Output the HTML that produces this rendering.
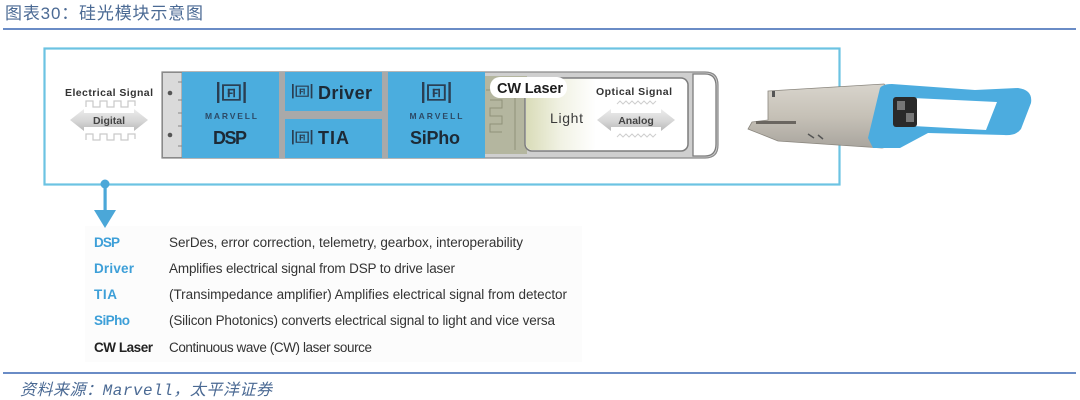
<!DOCTYPE html>
<html><head><meta charset="utf-8"><style>
html,body{margin:0;padding:0;background:#fff;}
svg{display:block;}
</style></head><body>
<svg width="1080" height="400" viewBox="0 0 1080 400" xmlns="http://www.w3.org/2000/svg">
<defs>
<linearGradient id="arrowG" x1="0" y1="0" x2="0" y2="1">
<stop offset="0" stop-color="#ececec"/><stop offset="0.55" stop-color="#d6d6d6"/><stop offset="1" stop-color="#b8b8b8"/>
</linearGradient>
<linearGradient id="glow" x1="0" y1="0" x2="1" y2="0">
<stop offset="0" stop-color="#d9dcb8"/><stop offset="0.5" stop-color="#f1f2e4"/><stop offset="1" stop-color="#ffffff"/>
</linearGradient>
<linearGradient id="silver" x1="0" y1="0" x2="0" y2="1">
<stop offset="0" stop-color="#d8d4cc"/><stop offset="0.5" stop-color="#c6c1b7"/><stop offset="1" stop-color="#a9a59e"/>
</linearGradient>
<g id="logo">
<rect x="0" y="0" width="2" height="20" fill="#2a3e52"/>
<rect x="22" y="0" width="2" height="20" fill="#2a3e52"/>
<rect x="5" y="3" width="14" height="14" fill="none" stroke="#2a3e52" stroke-width="1.6"/>
<rect x="9" y="6.5" width="1.6" height="8" fill="#2a3e52"/>
<rect x="9" y="6.5" width="6" height="1.5" fill="#2a3e52"/>
<rect x="9" y="10" width="4" height="1.4" fill="#2a3e52"/>
<rect x="13.6" y="6.5" width="1.4" height="8" fill="#2a3e52"/>
</g>
</defs>

<!-- Title -->
<text x="5" y="19" font-family="'Liberation Sans','Noto Sans CJK SC',sans-serif" font-size="17" fill="#4b6a94" textLength="198">图表30：硅光模块示意图</text>
<rect x="3" y="28" width="1073" height="2" fill="#6a8cc6"/>

<!-- legend bg -->
<rect x="85" y="226" width="497" height="136" fill="#fcfcfc"/>

<!-- Frame -->
<rect x="44.5" y="48.5" width="795" height="136" fill="none" stroke="#6cc3e2" stroke-width="2.2"/>
<circle cx="105" cy="184" r="4.5" fill="#4ba7d8"/>
<rect x="103.5" y="184" width="3.2" height="28" fill="#4ba7d8"/>
<polygon points="94,210 116,210 105,228" fill="#4ba7d8"/>

<!-- Electrical signal -->
<text x="65" y="96" font-family="'Liberation Sans',sans-serif" font-weight="bold" font-size="10.5" fill="#333" textLength="88">Electrical Signal</text>
<polyline points="86,107 86,101 93,101 93,107 100,107 100,101 107,101 107,107 114,107 114,101 121,101 121,107 128,107 128,101 135,101 135,106" fill="none" stroke="#c9c9c9" stroke-width="1.2"/>
<polygon points="70,120 84,109 84,113 134,113 134,109 148,120 134,131 134,127 84,127 84,131" fill="url(#arrowG)"/>
<text x="109" y="124" text-anchor="middle" font-family="'Liberation Sans',sans-serif" font-weight="bold" font-size="10.5" fill="#444">Digital</text>
<polyline points="86,140 86,134 93,134 93,140 100,140 100,134 107,134 107,140 114,140 114,134 121,134 121,140 128,140 128,134 135,134 135,139" fill="none" stroke="#c9c9c9" stroke-width="1.2"/>

<!-- Module body -->
<path d="M162,72 L705,72 Q718,72 718,85 L718,145 Q718,158 705,158 L162,158 Z" fill="#cfcfcf" stroke="#8a8a8a" stroke-width="1.2"/>
<rect x="162.5" y="72.5" width="19.5" height="85" fill="#dadada" stroke="#8a8a8a" stroke-width="1"/>
<circle cx="170" cy="93" r="2.3" fill="#555"/>
<circle cx="170" cy="135" r="2.3" fill="#555"/>
<g stroke="#888" stroke-width="1">
<line x1="178" y1="82" x2="182" y2="82"/><line x1="178" y1="100" x2="182" y2="100"/><line x1="178" y1="113" x2="182" y2="113"/><line x1="178" y1="126" x2="182" y2="126"/><line x1="178" y1="146" x2="182" y2="146"/>
</g>
<!-- gray separators -->
<rect x="279" y="72" width="109" height="86" fill="#a9a9a9"/>
<!-- blue blocks -->
<rect x="182" y="72" width="97" height="86" fill="#4badde"/>
<rect x="285" y="72" width="97" height="39" fill="#4badde"/>
<rect x="285" y="119" width="97" height="39" fill="#4badde"/>
<rect x="388" y="72" width="97" height="86" fill="#4badde"/>

<!-- DSP -->
<g transform="translate(217,82) scale(1.2,1.05)"><use href="#logo"/></g>
<text x="231" y="119" text-anchor="middle" font-family="'Liberation Sans',sans-serif" font-weight="bold" font-size="8.5" fill="#2c4a66" textLength="52">MARVELL</text>
<text x="230" y="144" text-anchor="middle" font-family="'Liberation Sans',sans-serif" font-weight="bold" font-size="18" fill="#1d2a36" textLength="34">DSP</text>
<!-- Driver -->
<g transform="translate(292,84) scale(0.85,0.72)"><use href="#logo"/></g>
<text x="318" y="99" font-family="'Liberation Sans',sans-serif" font-weight="bold" font-size="18" fill="#1d2a36" textLength="54">Driver</text>
<!-- TIA -->
<g transform="translate(292,130) scale(0.85,0.72)"><use href="#logo"/></g>
<text x="318" y="144" font-family="'Liberation Sans',sans-serif" font-weight="bold" font-size="18" fill="#1d2a36" textLength="31">TIA</text>
<!-- SiPho -->
<g transform="translate(422,82) scale(1.2,1.05)"><use href="#logo"/></g>
<text x="436" y="119" text-anchor="middle" font-family="'Liberation Sans',sans-serif" font-weight="bold" font-size="8.5" fill="#2c4a66" textLength="53">MARVELL</text>
<text x="435" y="144" text-anchor="middle" font-family="'Liberation Sans',sans-serif" font-weight="bold" font-size="18" fill="#1d2a36" textLength="50">SiPho</text>

<!-- laser chip area -->
<rect x="485" y="76" width="42" height="78" fill="#b4b69f"/>
<g stroke="#8f917a" stroke-width="1" fill="none">
<path d="M490,100 h12 v8 h-12 v8 h12 v8 h-12 v8 h12"/>
<line x1="515" y1="80" x2="515" y2="150"/>
<line x1="486" y1="90" x2="527" y2="90"/>
</g>
<!-- inner white box -->
<rect x="525" y="78" width="163" height="73" rx="7" fill="#fff" stroke="#7d7d7d" stroke-width="1.5"/>
<rect x="526" y="79" width="70" height="71" rx="6" fill="url(#glow)"/>
<!-- end cap -->
<path d="M693,74 L705,74 Q716,74 716,86 L716,144 Q716,156 705,156 L693,156 Z" fill="#fff" stroke="#7d7d7d" stroke-width="1.3"/>
<!-- CW Laser pill -->
<rect x="490" y="77" width="77" height="21" rx="10" fill="#fff"/>
<text x="497" y="93" font-family="'Liberation Sans',sans-serif" font-weight="bold" font-size="14.5" fill="#1d1d1d" textLength="66">CW Laser</text>
<text x="550" y="123" font-family="'Liberation Sans',sans-serif" font-size="14" fill="#3a3a3a" textLength="33">Light</text>
<!-- optical signal -->
<text x="596" y="95" font-family="'Liberation Sans',sans-serif" font-weight="bold" font-size="10.5" fill="#333" textLength="76">Optical Signal</text>
<path d="M617,104 l3,-3 l3,3 l3,-3 l3,3 l3,-3 l3,3 l3,-3 l3,3 l3,-3 l3,3 l3,-3 l3,3 l3,-3" fill="none" stroke="#cfcfcf" stroke-width="1"/>
<polygon points="597,120 611,109 611,113 661,113 661,109 675,120 661,131 661,127 611,127 611,131" fill="url(#arrowG)"/>
<text x="636" y="124" text-anchor="middle" font-family="'Liberation Sans',sans-serif" font-weight="bold" font-size="10.5" fill="#444">Analog</text>
<path d="M617,137 l3,-3 l3,3 l3,-3 l3,3 l3,-3 l3,3 l3,-3 l3,3 l3,-3 l3,3 l3,-3 l3,3 l3,-3" fill="none" stroke="#cfcfcf" stroke-width="1"/>

<!-- pluggable transceiver -->
<polygon points="768,91 884,84 893,92 893,146 882,148 778,141 748,129 752,122 768,120" fill="url(#silver)" stroke="#8a867e" stroke-width="0.8"/>
<rect x="756" y="121" width="40" height="3" fill="#6a6660"/>
<rect x="772" y="91" width="3" height="6" fill="#555"/>
<path d="M808,134 l6,4 M818,135 l5,4" stroke="#555" stroke-width="1.5"/>
<path d="M868,138 L880,88 Q883,84 892,84 L975,90 L1018,88 Q1033,90 1031,103 L1021,129 Q1016,136 1004,135 L928,133 L900,148 L873,148 Z M913,98 L997,102 L986,130 L913,126 Z" fill="#4cacdf" fill-rule="evenodd"/>
<rect x="893" y="97" width="24" height="30" rx="3" fill="#2a2a2a"/>
<rect x="897" y="101" width="8" height="9" fill="#777"/>
<rect x="906" y="113" width="8" height="9" fill="#777"/>

<!-- Legend -->
<g font-family="'Liberation Sans',sans-serif" font-size="13.5">
<text x="94" y="247" font-weight="bold" fill="#3d9fd8" textLength="26">DSP</text>
<text x="169" y="247" fill="#333" textLength="354">SerDes, error correction, telemetry, gearbox, interoperability</text>
<text x="94" y="273" font-weight="bold" fill="#3d9fd8" textLength="40">Driver</text>
<text x="169" y="273" fill="#333" textLength="286">Amplifies electrical signal from DSP to drive laser</text>
<text x="94" y="299" font-weight="bold" fill="#3d9fd8" textLength="23">TIA</text>
<text x="169" y="299" fill="#333" textLength="398">(Transimpedance amplifier) Amplifies electrical signal from detector</text>
<text x="94" y="325" font-weight="bold" fill="#3d9fd8" textLength="36">SiPho</text>
<text x="169" y="325" fill="#333" textLength="386">(Silicon Photonics) converts electrical signal to light and vice versa</text>
<text x="94" y="352" font-weight="bold" fill="#222" textLength="59">CW Laser</text>
<text x="169" y="352" fill="#333" textLength="203">Continuous wave (CW) laser source</text>
</g>

<!-- Footer -->
<rect x="3" y="372" width="1073" height="2" fill="#6a8cc6"/>
<text x="20" y="395" font-family="'Liberation Mono','Noto Sans CJK SC',monospace" font-style="italic" font-size="16" fill="#4b6a94" textLength="252">资料来源：Marvell，太平洋证券</text>
</svg>
</body></html>
